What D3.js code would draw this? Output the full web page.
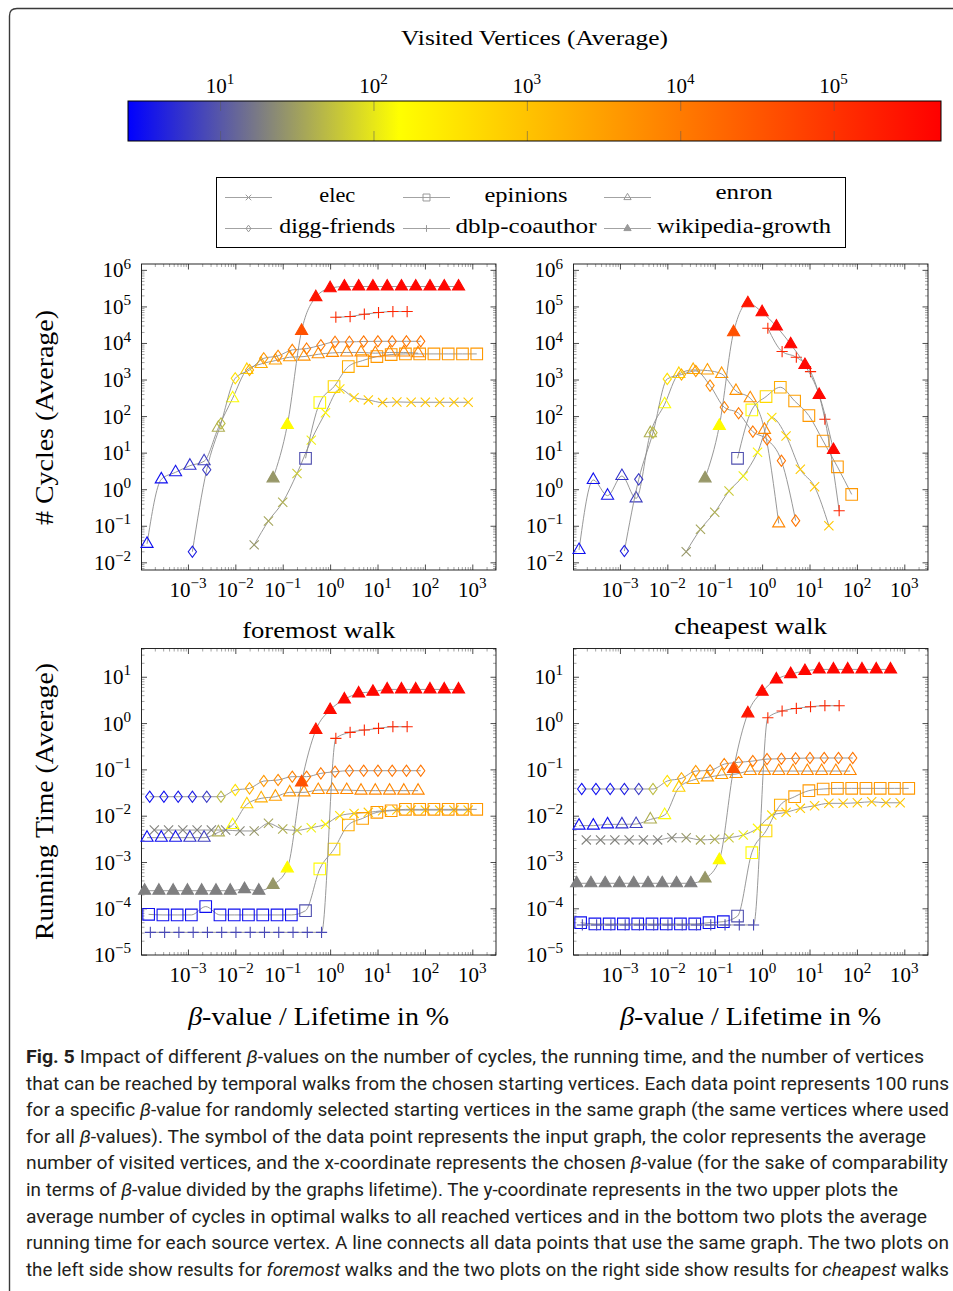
<!DOCTYPE html>
<html lang="en">
<head>
	<meta charset="UTF-8">
	<title>Fig. 5</title>
	<script src="https://cdn.jsdelivr.net/npm/d3@7"></script>
	<style>
		body { margin: 0; background: #fff; }
		svg text { font-family: "Liberation Serif", "DejaVu Serif", serif; fill: #000; }
		svg .caption { font-family: "Liberation Sans Narrow", Roboto, "Liberation Sans", sans-serif; fill: #231f20; }
	</style>
</head>
<body>
<script type="text/javascript">
	// beta-value / lifetime in % (one list per graph)
	var betaElec = [1.95e-4, 3.9e-4, 7.8e-4, 1.56e-3, 3.12e-3, 6.24e-3, 0.0125, 0.025, 0.05, 0.1, 0.2, 0.4, 0.8, 1.6, 3.2, 6.4, 12.8, 25.6, 51.2, 102, 205, 410, 819];
	var betaEpinions = [1.48e-4, 2.96e-4, 5.92e-4, 1.18e-3, 2.37e-3, 4.74e-3, 9.47e-3, 0.0189, 0.0379, 0.0758, 0.152, 0.303, 0.606, 1.21, 2.42, 4.85, 9.7, 19.4, 38.8, 77.6, 155, 310, 621, 1241];
	var betaEnron = [1.37e-4, 2.74e-4, 5.48e-4, 1.1e-3, 2.19e-3, 4.38e-3, 8.77e-3, 0.0175, 0.0351, 0.0701, 0.14, 0.281, 0.561, 1.12, 2.24, 4.49, 8.98, 18, 35.9, 71.8];
	var betaDigg = [1.56e-4, 3.11e-4, 6.22e-4, 1.24e-3, 2.49e-3, 4.98e-3, 9.96e-3, 0.0199, 0.0398, 0.0797, 0.159, 0.319, 0.637, 1.27, 2.55, 5.1, 10.2, 20.4, 40.8, 81.6];
	var betaDblp = [1.61e-4, 3.22e-4, 6.44e-4, 1.29e-3, 2.58e-3, 5.15e-3, 0.0103, 0.0206, 0.0412, 0.0824, 0.165, 0.33, 0.659, 1.32, 2.64, 5.27, 10.5, 21.1, 42.2];
	var betaWiki = [1.22e-4, 2.44e-4, 4.88e-4, 9.77e-4, 1.95e-3, 3.91e-3, 7.81e-3, 0.0156, 0.0313, 0.0625, 0.125, 0.25, 0.5, 1, 2, 4, 8, 16, 32, 64, 128, 256, 512];

	// visited vertices (average), gives the colour of each point
	var visitedElec = [20, 20, 20, 20, 20, 20, 22, 28, 35, 40, 63, 112, 200, 400, 630, 800, 890, 890, 890, 890, 890, 890, 890];
	var visitedEpinions = [3.2, 3.2, 3.2, 3.2, 3.2, 3.2, 3.2, 3.2, 3.2, 3.2, 3.2, 9, 160, 500, 2000, 3200, 4000, 4000, 4000, 4000, 4000, 4000, 4000, 4000];
	var visitedEnron = [3.2, 3.2, 3.5, 5.6, 7, 40, 140, 630, 2000, 3200, 4000, 5000, 5600, 6300, 7100, 7100, 7100, 7100, 7100, 7100];
	var visitedDigg = [3.2, 3.2, 3.5, 4, 6.3, 50, 400, 2000, 4000, 6300, 8000, 10000, 11000, 12600, 12600, 12600, 12600, 12600, 12600, 12600];
	var visitedDblp = [8, 8, 8, 8, 8, 8, 8, 8, 8, 8, 8, 8, 8, 126000, 160000, 160000, 160000, 160000, 160000];
	var visitedWiki = [19, 19, 19, 19, 19, 19, 19, 19, 19, 28, 160, 40000, 250000, 355000, 400000, 400000, 400000, 400000, 400000, 400000, 400000, 400000, 400000];

	// # cycles (average), foremost walk
	var cyclesForemostElec = [null, null, null, null, null, null, null, 0.030, 0.135, 0.44, 2.7, 22, 124, 553, 320, 277, 234, 244, 239, 239, 239, 239, 239];
	var cyclesForemostEpinions = [null, null, null, null, null, null, null, null, null, null, null, 7.0, 234, 641, 2260, 3300, 4240, 4820, 5020, 5020, 5020, 5020, 5020, 5020];
	var cyclesForemostEnron = [0.032, 1.86, 2.9, 4.4, 5.8, 48, 307, 1830, 2670, 3300, 4070, 4240, 4900, 5350, 5500, 5500, 5250, 5500, 5500, 5250];
	var cyclesForemostDigg = [null, null, null, 0.0195, 3.4, 63, 1080, 1830, 3800, 4430, 6460, 7000, 8670, 10700, 10700, 11000, 11100, 11100, 11100, 11100];
	var cyclesForemostDblp = [null, null, null, null, null, null, null, null, null, null, null, null, null, 50600, 52800, 61200, 68000, 72400, 72400];
	var cyclesForemostWiki = [null, null, null, null, null, null, null, null, null, 1.98, 57, 21400, 179000, 315000, 350000, 350000, 350000, 350000, 350000, 350000, 350000, 350000, 350000];

	// # cycles (average), cheapest walk
	var cyclesCheapestElec = [null, null, null, null, null, null, null, 0.0195, 0.08, 0.233, 0.89, 2.3, 10.2, 91, 28.6, 3.5, 1.17, 0.1, null, null, null, null, null];
	var cyclesCheapestEpinions = [null, null, null, null, null, null, null, null, null, null, null, 7.0, 147, 341, 614, 259, 103, 20.8, 4.1, 0.72, null, null, null, null];
	var cyclesCheapestEnron = [0.0217, 1.79, 0.665, 2.3, 0.56, 34, 210, 1420, 1830, 1760, 1420, 488, 307, 42, 0.116, null, null, null, null, null];
	var cyclesCheapestDigg = [null, null, null, 0.0203, 1.86, 35, 1040, 1365, 1720, 682, 174, 119, 37.6, 23, 6.0, 0.138, null, null, null, null];
	var cyclesCheapestDblp = [null, null, null, null, null, null, null, null, null, null, null, null, null, 25300, 5820, 4070, 1650, 82, 0.258];
	var cyclesCheapestWiki = [null, null, null, null, null, null, null, null, null, 1.98, 54, 19700, 122000, 69400, 28100, 9230, 2500, 378, 11.8, null, null, null, null];

	// running time (average), foremost walk
	var timeForemostElec = [0.0049, 0.0049, 0.0049, 0.0049, 0.0049, 0.0049, 0.00468, 0.00468, 0.00684, 0.00515, 0.00482, 0.0055, 0.0065, 0.01, 0.0112, 0.0118, 0.0128, 0.0132, 0.0132, 0.0132, 0.0132, 0.0132, 0.0132];
	var timeForemostEpinions = [7.4e-5, 7.2e-5, 7.2e-5, 7.2e-5, 1.09e-4, 7.2e-5, 7.2e-5, 7.2e-5, 7.2e-5, 7.2e-5, 7.2e-5, 8.9e-5, 7.1e-4, 1.9e-3, 6.3e-3, 8.75e-3, 0.0118, 0.0128, 0.0137, 0.0137, 0.0137, 0.0137, 0.0137, 0.0137];
	var timeForemostEnron = [0.00335, 0.00335, 0.00335, 0.00335, 0.00335, 0.00437, 0.0063, 0.0176, 0.0237, 0.0257, 0.0319, 0.0319, 0.0358, 0.0358, 0.0358, 0.0347, 0.0347, 0.0347, 0.0347, 0.0347];
	var timeForemostDigg = [0.0257, 0.0257, 0.0257, 0.0257, 0.0257, 0.0257, 0.0358, 0.0389, 0.056, 0.0589, 0.0695, 0.0695, 0.082, 0.089, 0.0936, 0.0936, 0.0936, 0.0936, 0.0936, 0.0936];
	var timeForemostDblp = [3.03e-5, 3.03e-5, 3.03e-5, 3.03e-5, 3.03e-5, 3.03e-5, 3.03e-5, 3.03e-5, 3.03e-5, 3.03e-5, 3.03e-5, 3.03e-5, 3.03e-5, 0.467, 0.63, 0.706, 0.767, 0.834, 0.834];
	var timeForemostWiki = [2.4e-4, 2.4e-4, 2.4e-4, 2.4e-4, 2.4e-4, 2.4e-4, 2.4e-4, 2.6e-4, 2.4e-4, 3.2e-4, 7.3e-4, 0.0524, 0.706, 1.91, 3.24, 4.37, 4.74, 5.33, 5.33, 5.33, 5.33, 5.33, 5.33];

	// running time (average), cheapest walk
	var timeCheapestElec = [0.003, 0.003, 0.003, 0.003, 0.003, 0.003, 0.00335, 0.00335, 0.003, 0.0031, 0.00335, 0.00383, 0.00533, 0.0103, 0.0118, 0.0144, 0.0164, 0.0185, 0.0185, 0.019, 0.02, 0.019, 0.019];
	var timeCheapestEpinions = [4.9e-5, 4.6e-5, 4.6e-5, 4.6e-5, 4.6e-5, 4.6e-5, 4.6e-5, 4.6e-5, 4.6e-5, 4.9e-5, 5.15e-5, 6.8e-5, 1.59e-3, 4.7e-3, 0.017, 0.0257, 0.0347, 0.0377, 0.0389, 0.0389, 0.0389, 0.0389, 0.0389, 0.0389];
	var timeCheapestEnron = [0.0061, 0.0061, 0.0065, 0.0065, 0.0066, 0.0083, 0.0103, 0.0402, 0.0589, 0.0672, 0.0755, 0.0793, 0.092, 0.092, 0.092, 0.092, 0.092, 0.092, 0.092, 0.092];
	var timeCheapestDigg = [0.0377, 0.0377, 0.0377, 0.0377, 0.0377, 0.0377, 0.056, 0.064, 0.092, 0.095, 0.13, 0.142, 0.151, 0.167, 0.17, 0.173, 0.176, 0.176, 0.176, 0.176];
	var timeCheapestDblp = [4.37e-5, 4.37e-5, 4.37e-5, 4.37e-5, 4.37e-5, 4.37e-5, 4.37e-5, 4.37e-5, 4.37e-5, 4.37e-5, 4.37e-5, 4.37e-5, 4.37e-5, 1.3, 1.82, 2.07, 2.25, 2.37, 2.37];
	var timeCheapestWiki = [3.47e-4, 3.47e-4, 3.47e-4, 3.47e-4, 3.47e-4, 3.47e-4, 3.47e-4, 3.47e-4, 3.47e-4, 4.4e-4, 1.1e-3, 0.1016, 1.62, 4.74, 8.75, 11.4, 13.3, 14.4, 14.4, 14.4, 14.4, 14.4, 14.4];

	// colour map: blue - yellow - orange - red over the visited-vertex range
	var colormapColors = ['#0000ff', '#ffff00', '#ff8000', '#ff0000'];
	var visitedRange = [2.51, 501000];
	var colorbarTicks = [1, 2, 3, 4, 5];
	var xTickExps = [-3, -2, -1, 0, 1, 2, 3];

	var captionLines = [
		[['b', 'Fig. 5'], ['', ' Impact of different '], ['i', 'β'], ['', '-values on the number of cycles, the running time, and the number of vertices']],
		[['', 'that can be reached by temporal walks from the chosen starting vertices. Each data point represents 100 runs']],
		[['', 'for a specific '], ['i', 'β'], ['', '-value for randomly selected starting vertices in the same graph (the same vertices where used']],
		[['', 'for all '], ['i', 'β'], ['', '-values). The symbol of the data point represents the input graph, the color represents the average']],
		[['', 'number of visited vertices, and the x-coordinate represents the chosen '], ['i', 'β'], ['', '-value (for the sake of comparability']],
		[['', 'in terms of '], ['i', 'β'], ['', '-value divided by the graphs lifetime). The y-coordinate represents in the two upper plots the']],
		[['', 'average number of cycles in optimal walks to all reached vertices and in the bottom two plots the average']],
		[['', 'running time for each source vertex. A line connects all data points that use the same graph. The two plots on']],
		[['', 'the left side show results for '], ['i', 'foremost'], ['', ' walks and the two plots on the right side show results for '], ['i', 'cheapest'], ['', ' walks']]
	];
	var captionEnds = [924, 949, 949, 926, 948, 898, 927, 949, 949];

	var series = [
		{name: 'elec', mark: 'cross', beta: betaElec, visited: visitedElec,
			cyclesForemost: cyclesForemostElec, cyclesCheapest: cyclesCheapestElec, timeForemost: timeForemostElec, timeCheapest: timeCheapestElec},
		{name: 'epinions', mark: 'square', beta: betaEpinions, visited: visitedEpinions,
			cyclesForemost: cyclesForemostEpinions, cyclesCheapest: cyclesCheapestEpinions, timeForemost: timeForemostEpinions, timeCheapest: timeCheapestEpinions},
		{name: 'enron', mark: 'triangle', beta: betaEnron, visited: visitedEnron,
			cyclesForemost: cyclesForemostEnron, cyclesCheapest: cyclesCheapestEnron, timeForemost: timeForemostEnron, timeCheapest: timeCheapestEnron},
		{name: 'digg-friends', mark: 'diamond', beta: betaDigg, visited: visitedDigg,
			cyclesForemost: cyclesForemostDigg, cyclesCheapest: cyclesCheapestDigg, timeForemost: timeForemostDigg, timeCheapest: timeCheapestDigg},
		{name: 'dblp-coauthor', mark: 'plus', beta: betaDblp, visited: visitedDblp,
			cyclesForemost: cyclesForemostDblp, cyclesCheapest: cyclesCheapestDblp, timeForemost: timeForemostDblp, timeCheapest: timeCheapestDblp},
		{name: 'wikipedia-growth', mark: 'filledTriangle', beta: betaWiki, visited: visitedWiki,
			cyclesForemost: cyclesForemostWiki, cyclesCheapest: cyclesCheapestWiki, timeForemost: timeForemostWiki, timeCheapest: timeCheapestWiki}
	];

	var panelWidth = 354.5;
	var xDomain = [Math.pow(10, -3.98), Math.pow(10, 3.5)];
	var panels = [
		{key: 'cyclesForemost', left: 141.5, top: 264, height: 306, yDomain: [Math.pow(10, -2.21), Math.pow(10, 6.16)], yExps: [-2, -1, 0, 1, 2, 3, 4, 5, 6]},
		{key: 'cyclesCheapest', left: 573.5, top: 264, height: 306, yDomain: [Math.pow(10, -2.21), Math.pow(10, 6.16)], yExps: [-2, -1, 0, 1, 2, 3, 4, 5, 6]},
		{key: 'timeForemost', left: 141.5, top: 648.5, height: 306.5, yDomain: [Math.pow(10, -5.008), Math.pow(10, 1.61)], yExps: [-5, -4, -3, -2, -1, 0, 1]},
		{key: 'timeCheapest', left: 573.5, top: 648.5, height: 306.5, yDomain: [Math.pow(10, -5.008), Math.pow(10, 1.61)], yExps: [-5, -4, -3, -2, -1, 0, 1]}
	];

	var svg = d3.select('body')
		.append('svg')
		.attr('width', 953)
		.attr('height', 1291);

	// figure frame (rounded top-left corner)
	svg.append('path')
		.attr('d', 'M9.5,1291V16Q9.5,8.5 17,8.5H953')
		.attr('fill', 'none')
		.attr('stroke', '#3a3a3a')
		.attr('stroke-width', 1.4);

	var logVisited = visitedRange.map(Math.log10);
	var colorStops = colormapColors.map(function (c, i) {
		return Math.pow(10, logVisited[0] + (logVisited[1] - logVisited[0]) * i / (colormapColors.length - 1));
	});
	var color = d3.scaleLog()
		.domain(colorStops)
		.range(colormapColors)
		.clamp(true);

	function marksPath(type, s) {
		var p;
		if (type === 'cross') {
			p = 4.6 * s;
			return 'M' + (-p) + ',' + (-p) + 'L' + p + ',' + p + 'M' + (-p) + ',' + p + 'L' + p + ',' + (-p);
		}
		if (type === 'plus') {
			p = 5.6 * s;
			return 'M' + (-p) + ',0H' + p + 'M0,' + (-p) + 'V' + p;
		}
		if (type === 'square') {
			p = 5.8 * s;
			return 'M' + (-p) + ',' + (-p) + 'H' + p + 'V' + p + 'H' + (-p) + 'Z';
		}
		if (type === 'diamond') {
			return 'M0,' + (-5.6 * s) + 'L' + (4.1 * s) + ',0L0,' + (5.6 * s) + 'L' + (-4.1 * s) + ',0Z';
		}
		// triangles
		p = 7 * s;
		return 'M0,' + (-p) + 'L' + (p * 0.866) + ',' + (p / 2) + 'L' + (-p * 0.866) + ',' + (p / 2) + 'Z';
	}

	function addPow(sel, exp, size) {
		sel.append('tspan').text('10');
		sel.append('tspan')
			.attr('dy', -size * 0.42)
			.attr('font-size', size * 0.72)
			.text(exp < 0 ? '\u2212' + (-exp) : exp);
	}

	function minorValues(domain) {
		var out = [];
		var lo = Math.floor(Math.log10(domain[0]));
		var hi = Math.ceil(Math.log10(domain[1]));
		for (var e = lo; e < hi; e++) {
			for (var m = 2; m < 10; m++) {
				var v = m * Math.pow(10, e);
				if (v >= domain[0] && v <= domain[1]) out.push(v);
			}
		}
		return out;
	}

	function tickSide(g, axis, transform, col, w) {
		g.append('g')
			.attr('transform', transform)
			.attr('color', col)
			.call(axis)
			.call(function (a) {
				a.select('.domain').remove();
				a.selectAll('text').remove();
				a.selectAll('line').attr('stroke-width', w);
			});
	}

	function drawPanel(p) {
		var g = svg.append('g').attr('transform', 'translate(' + p.left + ',' + p.top + ')');
		var w = panelWidth, h = p.height;
		var x = d3.scaleLog().domain(xDomain).range([0, w]);
		var y = d3.scaleLog().domain(p.yDomain).range([h, 0]);
		var xMajor = xTickExps.map(function (e) { return Math.pow(10, e); });
		var yMajor = p.yExps.map(function (e) { return Math.pow(10, e); });
		var xMinor = minorValues(xDomain);
		var yMinor = minorValues(p.yDomain);

		[[xMinor, yMinor, -3, '#666', 0.6], [xMajor, yMajor, -5.5, '#222', 0.8]].forEach(function (t) {
			tickSide(g, d3.axisBottom(x).tickValues(t[0]).tickSize(t[2]).tickSizeOuter(0), 'translate(0,' + h + ')', t[3], t[4]);
			tickSide(g, d3.axisTop(x).tickValues(t[0]).tickSize(t[2]).tickSizeOuter(0), 'translate(0,0)', t[3], t[4]);
			tickSide(g, d3.axisLeft(y).tickValues(t[1]).tickSize(t[2]).tickSizeOuter(0), 'translate(0,0)', t[3], t[4]);
			tickSide(g, d3.axisRight(y).tickValues(t[1]).tickSize(t[2]).tickSizeOuter(0), 'translate(' + w + ',0)', t[3], t[4]);
		});

		g.append('rect')
			.attr('width', w)
			.attr('height', h)
			.attr('fill', 'none')
			.attr('stroke', '#111')
			.attr('stroke-width', 0.9);

		xTickExps.forEach(function (e) {
			var t = g.append('text')
				.attr('x', x(Math.pow(10, e)))
				.attr('y', h + 27)
				.attr('text-anchor', 'middle')
				.attr('font-size', 21);
			addPow(t, e, 21);
		});
		p.yExps.forEach(function (e) {
			var t = g.append('text')
				.attr('x', -10.5)
				.attr('y', y(Math.pow(10, e)) + 7.5)
				.attr('text-anchor', 'end')
				.attr('font-size', 21);
			addPow(t, e, 21);
		});

		var line = d3.line()
			.curve(d3.curveMonotoneX)
			.x(function (d) { return x(d.beta); })
			.y(function (d) { return y(d.v); });

		series.forEach(function (s) {
			var pts = s.beta.map(function (b, i) {
				return {beta: b, v: s[p.key][i], visited: s.visited[i]};
			}).filter(function (d) { return d.v != null; });

			g.append('path')
				.datum(pts)
				.attr('d', line)
				.attr('fill', 'none')
				.attr('stroke', '#8c8c8c')
				.attr('stroke-width', 0.9);

			g.selectAll(null)
				.data(pts)
				.enter().append('path')
				.attr('transform', function (d) {
					return 'translate(' + x(d.beta) + ',' + y(d.v) + ')';
				})
				.attr('d', marksPath(s.mark, 1))
				.attr('fill', function (d) {
					return s.mark === 'filledTriangle' ? color(d.visited) : 'none';
				})
				.attr('stroke', function (d) { return color(d.visited); })
				.attr('stroke-width', 1.1);
		});
	}

	panels.forEach(drawPanel);

	// colour bar
	var cbLeft = 128, cbTop = 101, cbWidth = 813, cbHeight = 40;
	var cbScale = d3.scaleLog().domain(visitedRange).range([0, cbWidth]);
	var grad = svg.append('defs')
		.append('linearGradient')
		.attr('id', 'cmap')
		.attr('x1', 0).attr('x2', 1).attr('y1', 0).attr('y2', 0);
	grad.selectAll('stop')
		.data(colorStops)
		.enter().append('stop')
		.attr('offset', function (d) { return cbScale(d) / cbWidth; })
		.attr('stop-color', function (d) { return color(d); });

	var cb = svg.append('g').attr('transform', 'translate(' + cbLeft + ',' + cbTop + ')');
	cb.append('rect')
		.attr('width', cbWidth)
		.attr('height', cbHeight)
		.attr('fill', 'url(#cmap)');
	tickSide(cb, d3.axisTop(cbScale).tickValues(colorbarTicks.map(function (e) { return Math.pow(10, e); })).tickSize(-10).tickSizeOuter(0),
		'translate(0,0)', 'rgba(90,90,90,0.55)', 1);
	tickSide(cb, d3.axisBottom(cbScale).tickValues(colorbarTicks.map(function (e) { return Math.pow(10, e); })).tickSize(-10).tickSizeOuter(0),
		'translate(0,' + cbHeight + ')', 'rgba(90,90,90,0.55)', 1);
	cb.append('rect')
		.attr('width', cbWidth)
		.attr('height', cbHeight)
		.attr('fill', 'none')
		.attr('stroke', '#000')
		.attr('stroke-width', 1);
	colorbarTicks.forEach(function (e) {
		var t = cb.append('text')
			.attr('x', cbScale(Math.pow(10, e)))
			.attr('y', -8)
			.attr('text-anchor', 'middle')
			.attr('font-size', 21);
		addPow(t, e, 21);
	});

	function label(text, x, y, size, len, rotate) {
		return svg.append('text')
			.attr('transform', 'translate(' + x + ',' + y + ')' + (rotate ? ' rotate(-90)' : ''))
			.attr('text-anchor', 'middle')
			.attr('font-size', size)
			.attr('textLength', len)
			.attr('lengthAdjust', 'spacingAndGlyphs')
			.text(text);
	}

	label('Visited Vertices (Average)', 534.5, 45, 22, 267);
	label('foremost walk', 318.7, 638, 24, 153);
	label('cheapest walk', 750.7, 634, 24, 153);
	label('# Cycles (Average)', 53, 417.5, 25, 215, true);
	label('Running Time (Average)', 53, 801.5, 25, 277, true);

	[318.7, 750.7].forEach(function (cx) {
		var t = svg.append('text')
			.attr('x', cx)
			.attr('y', 1025)
			.attr('text-anchor', 'middle')
			.attr('font-size', 25)
			.attr('textLength', 261)
			.attr('lengthAdjust', 'spacingAndGlyphs');
		t.append('tspan').attr('font-style', 'italic').text('β');
		t.append('tspan').text('-value / Lifetime in %');
	});

	// legend
	var legend = svg.append('g');
	legend.append('rect')
		.attr('x', 216.5).attr('y', 177.5)
		.attr('width', 629).attr('height', 70)
		.attr('fill', 'none')
		.attr('stroke', '#000')
		.attr('stroke-width', 1);
	var legendCols = [225, 403, 604];
	var legendText = [337.3, 526, 744];
	var legendLen = [36, 83, 57, 116, 141, 174];
	var legendBase = [201.7, 201.7, 199, 233.3, 233.3, 233.3];
	series.forEach(function (s, i) {
		var col = i % 3, row = Math.floor(i / 3);
		var ly = row === 0 ? 197.5 : 228.5;
		var item = legend.append('g');
		item.append('line')
			.attr('x1', legendCols[col]).attr('x2', legendCols[col] + 47)
			.attr('y1', ly).attr('y2', ly)
			.attr('stroke', '#999').attr('stroke-width', 0.9);
		item.append('path')
			.attr('transform', 'translate(' + (legendCols[col] + 23.5) + ',' + ly + ')')
			.attr('d', marksPath(s.mark, 0.6))
			.attr('fill', s.mark === 'filledTriangle' ? '#999' : 'none')
			.attr('stroke', '#999')
			.attr('stroke-width', 1);
		item.append('text')
			.attr('x', legendText[col])
			.attr('y', legendBase[i])
			.attr('text-anchor', 'middle')
			.attr('font-size', 22)
			.attr('textLength', legendLen[i])
			.attr('lengthAdjust', 'spacingAndGlyphs')
			.text(s.name);
	});

	// caption
	captionLines.forEach(function (parts, i) {
		var t = svg.append('text')
			.attr('class', 'caption')
			.attr('x', 26)
			.attr('y', 1063 + i * 26.6)
			.attr('font-size', 18.5)
			.attr('textLength', captionEnds[i] - 26)
			.attr('lengthAdjust', 'spacingAndGlyphs');
		parts.forEach(function (part) {
			var sp = t.append('tspan').text(part[1]);
			if (part[0] === 'b') sp.attr('font-weight', 'bold');
			if (part[0] === 'i') sp.attr('font-style', 'italic');
		});
	});
</script>
</body>
</html>
